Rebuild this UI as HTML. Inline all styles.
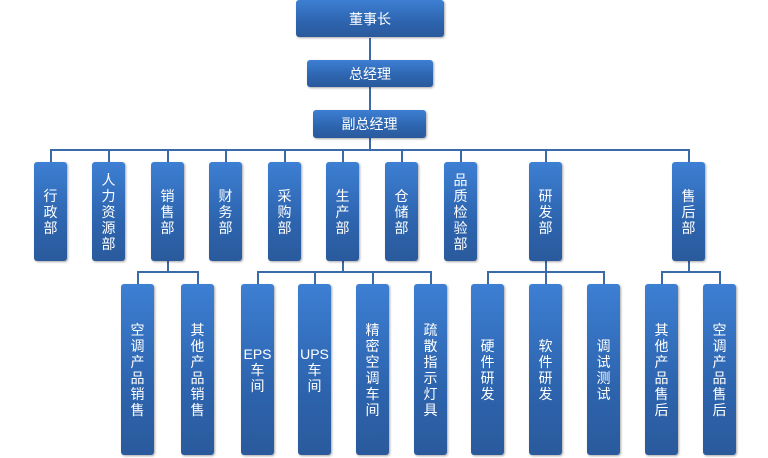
<!DOCTYPE html>
<html><head><meta charset="utf-8"><style>
body{margin:0;width:768px;height:458px;background:#fff;position:relative;overflow:hidden;font-family:"Liberation Sans","Noto Sans CJK SC",sans-serif}
.b{position:absolute;background:linear-gradient(#3d7fd3,#2d64ae 60%,#2a5a9c);border-radius:3px;box-shadow:1px 1px 2px rgba(0,0,0,.35);color:#fff;font-size:14px;display:flex;align-items:center;justify-content:center;text-align:center;line-height:16px}
.v{width:33px}
.l{position:absolute;background:#3b6aa8}
</style></head><body>
<!-- lines -->
<div class="l" style="left:369px;top:38px;width:2px;height:72px"></div>
<div class="l" style="left:50px;top:149px;width:640px;height:2px"></div>
<div class="l" style="left:369px;top:138px;width:2px;height:12px"></div>
<script>
</script>
<div class="l" style="left:50px;top:150px;width:2px;height:12px"></div>
<div class="l" style="left:108px;top:150px;width:2px;height:12px"></div>
<div class="l" style="left:167px;top:150px;width:2px;height:12px"></div>
<div class="l" style="left:225px;top:150px;width:2px;height:12px"></div>
<div class="l" style="left:284px;top:150px;width:2px;height:12px"></div>
<div class="l" style="left:342px;top:150px;width:2px;height:12px"></div>
<div class="l" style="left:401px;top:150px;width:2px;height:12px"></div>
<div class="l" style="left:460px;top:150px;width:2px;height:12px"></div>
<div class="l" style="left:545px;top:150px;width:2px;height:12px"></div>
<div class="l" style="left:688px;top:150px;width:2px;height:12px"></div>
<!-- level3 buses -->
<div class="l" style="left:167px;top:261px;width:2px;height:11px"></div>
<div class="l" style="left:137px;top:271px;width:62px;height:2px"></div>
<div class="l" style="left:137px;top:272px;width:2px;height:12px"></div>
<div class="l" style="left:197px;top:272px;width:2px;height:12px"></div>
<div class="l" style="left:342px;top:261px;width:2px;height:11px"></div>
<div class="l" style="left:257px;top:271px;width:175px;height:2px"></div>
<div class="l" style="left:257px;top:272px;width:2px;height:12px"></div>
<div class="l" style="left:314px;top:272px;width:2px;height:12px"></div>
<div class="l" style="left:372px;top:272px;width:2px;height:12px"></div>
<div class="l" style="left:430px;top:272px;width:2px;height:12px"></div>
<div class="l" style="left:545px;top:261px;width:2px;height:11px"></div>
<div class="l" style="left:487px;top:271px;width:118px;height:2px"></div>
<div class="l" style="left:487px;top:272px;width:2px;height:12px"></div>
<div class="l" style="left:545px;top:272px;width:2px;height:12px"></div>
<div class="l" style="left:603px;top:272px;width:2px;height:12px"></div>
<div class="l" style="left:688px;top:261px;width:2px;height:11px"></div>
<div class="l" style="left:661px;top:271px;width:60px;height:2px"></div>
<div class="l" style="left:661px;top:272px;width:2px;height:12px"></div>
<div class="l" style="left:719px;top:272px;width:2px;height:12px"></div>
<!-- top boxes -->
<div class="b" style="left:296px;top:0;width:148px;height:37px">董事长</div>
<div class="b" style="left:307px;top:60px;width:126px;height:27px">总经理</div>
<div class="b" style="left:313px;top:110px;width:113px;height:28px">副总经理</div>
<!-- level2 -->
<div class="b v" style="left:34px;top:162px;height:99px">行<br>政<br>部</div>
<div class="b v" style="left:92px;top:162px;height:99px">人<br>力<br>资<br>源<br>部</div>
<div class="b v" style="left:151px;top:162px;height:99px">销<br>售<br>部</div>
<div class="b v" style="left:209px;top:162px;height:99px">财<br>务<br>部</div>
<div class="b v" style="left:268px;top:162px;height:99px">采<br>购<br>部</div>
<div class="b v" style="left:326px;top:162px;height:99px">生<br>产<br>部</div>
<div class="b v" style="left:385px;top:162px;height:99px">仓<br>储<br>部</div>
<div class="b v" style="left:444px;top:162px;height:99px">品<br>质<br>检<br>验<br>部</div>
<div class="b v" style="left:529px;top:162px;height:99px">研<br>发<br>部</div>
<div class="b v" style="left:672px;top:162px;height:99px">售<br>后<br>部</div>
<!-- level3 -->
<div class="b v" style="left:121px;top:284px;height:171px">空<br>调<br>产<br>品<br>销<br>售</div>
<div class="b v" style="left:181px;top:284px;height:171px">其<br>他<br>产<br>品<br>销<br>售</div>
<div class="b v" style="left:241px;top:284px;height:171px">EPS<br>车<br>间</div>
<div class="b v" style="left:298px;top:284px;height:171px">UPS<br>车<br>间</div>
<div class="b v" style="left:356px;top:284px;height:171px">精<br>密<br>空<br>调<br>车<br>间</div>
<div class="b v" style="left:414px;top:284px;height:171px">疏<br>散<br>指<br>示<br>灯<br>具</div>
<div class="b v" style="left:471px;top:284px;height:171px">硬<br>件<br>研<br>发</div>
<div class="b v" style="left:529px;top:284px;height:171px">软<br>件<br>研<br>发</div>
<div class="b v" style="left:587px;top:284px;height:171px">调<br>试<br>测<br>试</div>
<div class="b v" style="left:645px;top:284px;height:171px">其<br>他<br>产<br>品<br>售<br>后</div>
<div class="b v" style="left:703px;top:284px;height:171px">空<br>调<br>产<br>品<br>售<br>后</div>
</body></html>
